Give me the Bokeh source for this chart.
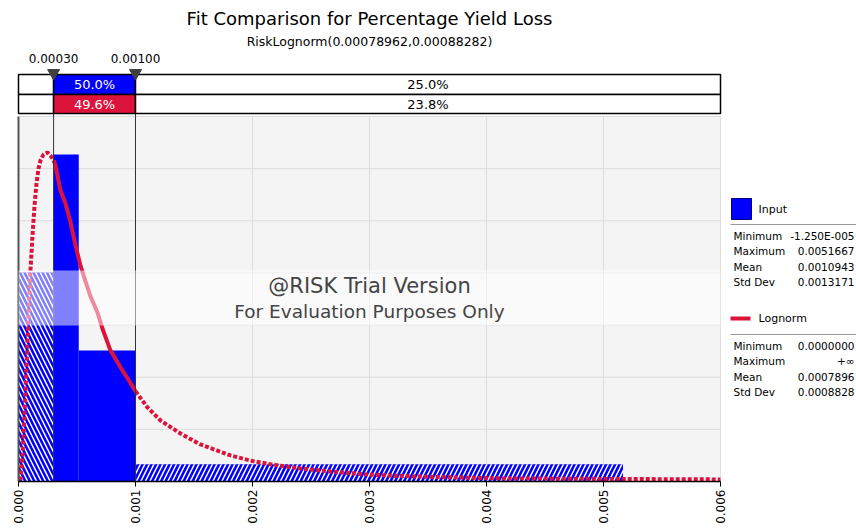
import math
import numpy as np
from bokeh.plotting import figure
from bokeh.models import Range1d, FixedTicker, PrintfTickFormatter
from bokeh.embed import file_html
from bokeh.resources import INLINE
from bokeh.core.properties import value

# ---------------- data ----------------
title_text = "Fit Comparison for Percentage Yield Loss"
subtitle_text = "RiskLognorm(0.00078962,0.00088282)"

# input histogram (relative density units)
bin_left = [-0.0000125, 0.0003, 0.000515, 0.001]
bin_right = [0.0003, 0.000515, 0.001, 0.0051667]
bin_height = [4.01, 6.27, 2.51, 0.33]

# fitted lognormal density (same units)
curve_x = [0.0000171, 0.0000342, 0.0000513, 0.0000684, 0.0000855, 0.0001026, 0.0001197,
           0.0001368, 0.0001538, 0.0001709, 0.000188, 0.0002137, 0.0002479, 0.0002735,
           0.0003, 0.0003162, 0.000359, 0.0004017, 0.0004444, 0.0004872, 0.0005299,
           0.0005726, 0.0006154, 0.0006752, 0.000718, 0.0007863, 0.0008718, 0.0009316,
           0.001, 0.0011026, 0.0012137, 0.0013846, 0.0015556, 0.001812, 0.001983,
           0.002154, 0.00241, 0.002667, 0.003009, 0.00335, 0.003692, 0.00412, 0.004974, 0.006]
curve_y = [0.02, 0.50, 1.27, 2.22, 3.18, 4.05, 4.72,
           5.29, 5.72, 6.00, 6.16, 6.27, 6.31, 6.25,
           6.16, 6.06, 5.58, 5.33, 4.97, 4.53, 4.14,
           3.84, 3.55, 3.24, 2.93, 2.51, 2.19, 1.98,
           1.73, 1.42, 1.17, 0.92, 0.71, 0.50, 0.40,
           0.33, 0.25, 0.19, 0.13, 0.10, 0.08, 0.06, 0.05, 0.04]

delims = [0.0003, 0.001]
delim_labels = ["0.00030", "0.00100"]
input_pct = ["25.0%", "50.0%", "25.0%"]
fit_pct = ["26.6%", "49.6%", "23.8%"]

xticks = [0.000, 0.001, 0.002, 0.003, 0.004, 0.005, 0.006]
grid_y = [1, 2, 3, 4, 5, 6, 7]

stat_names = ["Minimum", "Maximum", "Mean", "Std Dev"]
input_stats = ["-1.250E-005", "0.0051667", "0.0010943", "0.0013171"]
fit_stats = ["0.0000000", "+\u221e", "0.0007896", "0.0008828"]
series_names = ["Input", "Lognorm"]

watermark1 = "@RISK Trial Version"
watermark2 = "For Evaluation Purposes Only"

# ---------------- layout helpers (canvas pixel -> data) ----------------
W, H = 856, 529
X0_PX, X1_PX = 18, 720
Y0_PX, YTOP_PX = 481, 116
XMIN, XMAX = xticks[0], xticks[-1]
YTOP = grid_y[-1]
KX = (XMAX - XMIN) / (X1_PX - X0_PX)
KY = (Y0_PX - YTOP_PX) / YTOP


def X(px):
    return XMIN + (px - X0_PX) * KX


def Y(py):
    return (Y0_PX - py) / KY


FONT = value("DejaVu Sans")
BLUE = "#0000ff"
RED = "#dc143c"

p = figure(width=W, height=H, output_backend="svg", toolbar_location=None,
           x_range=Range1d(X(0), X(W)), y_range=Range1d(0, Y(0)),
           y_axis_location=None, min_border_left=0, min_border_right=0,
           min_border_top=0, min_border_bottom=H - Y0_PX)
p.grid.visible = False
p.outline_line_color = None
p.background_fill_color = "white"
p.border_fill_color = "white"

# plot area background and grid
p.quad(left=[XMIN], right=[XMAX], bottom=[0], top=[YTOP], fill_color="#f4f4f4", line_color=None)
p.segment(x0=xticks[1:], x1=xticks[1:], y0=[0] * (len(xticks) - 1), y1=[YTOP] * (len(xticks) - 1),
          line_color="#dddddd", line_width=1)
p.segment(x0=[XMIN] * len(grid_y), x1=[XMAX] * len(grid_y), y0=grid_y, y1=grid_y,
          line_color="#dddddd", line_width=1)

# histogram
bl = np.maximum(np.array(bin_left), XMIN)
br = np.array(bin_right)
bh = np.array(bin_height)
hatch_dirs = ["\\", None, None, "/"]
for i in range(len(bl)):
    if hatch_dirs[i] is None:
        p.quad(left=[bl[i]], right=[br[i]], bottom=[0], top=[bh[i]], fill_color=BLUE, line_color=None)
    else:
        p.quad(left=[bl[i]], right=[br[i]], bottom=[0], top=[bh[i]], fill_color=BLUE, line_color=None,
               hatch_pattern=hatch_dirs[i], hatch_color="white", hatch_scale=9, hatch_weight=1.5)

# fitted curve: solid between delimiters, dashed outside
cx = np.array(curve_x)
cy = np.array(curve_y)
m_left = cx <= delims[0]
m_mid = (cx >= delims[0]) & (cx <= delims[1])
m_right = cx >= delims[1]
p.line(cx[m_left], cy[m_left], line_color=RED, line_width=4, line_dash="4 2")
p.line(cx[m_right], cy[m_right], line_color=RED, line_width=4, line_dash="4 2")
p.line(cx[m_mid], cy[m_mid], line_color=RED, line_width=4)

# left axis line
p.segment(x0=[XMIN], x1=[XMIN], y0=[0], y1=[YTOP], line_color="#555555", line_width=2)

# delimiter lines
p.segment(x0=delims, x1=delims, y0=[0, 0], y1=[Y(74), Y(74)], line_color="#333333", line_width=1)

# watermark band
p.quad(left=[XMIN], right=[XMAX], bottom=[Y(325)], top=[Y(270)], fill_color="white",
       fill_alpha=0.5, line_color=None)
xc = (XMIN + XMAX) / 2
p.text(x=[xc], y=[Y(285)], text=[watermark1], text_font=FONT, text_font_size="21px",
       text_color="#444444", text_align="center", text_baseline="middle")
p.text(x=[xc], y=[Y(311)], text=[watermark2], text_font=FONT, text_font_size="18.5px",
       text_color="#444444", text_align="center", text_baseline="middle")

# delimiter bars above the plot
edges = [XMIN] + delims + [XMAX]
rows = [(Y(94), Y(74), ["white", BLUE, "white"], input_pct),
        (Y(113), Y(94), ["white", RED, "white"], fit_pct)]
for bot, top, colors, pcts in rows:
    p.quad(left=edges[:-1], right=edges[1:], bottom=[bot] * 3, top=[top] * 3,
           fill_color=colors, line_color="black", line_width=1.5)
    for j in range(3):
        if (edges[j + 1] - edges[j]) / KX < 50:
            continue
        p.text(x=[(edges[j] + edges[j + 1]) / 2], y=[(bot + top) / 2], text=[pcts[j]],
               text_font=FONT, text_font_size="13px",
               text_color="white" if colors[j] != "white" else "black",
               text_align="center", text_baseline="middle")

p.scatter(x=delims, y=[Y(72.5)] * 2, marker="inverted_triangle", size=12,
          fill_color="#404040", line_color="#404040")
p.text(x=delims, y=[Y(58)] * 2, text=delim_labels, text_font=FONT, text_font_size="12px",
       text_color="black", text_align="center", text_baseline="middle")

# titles
p.text(x=[xc], y=[Y(18)], text=[title_text], text_font=FONT, text_font_size="18px",
       text_color="black", text_align="center", text_baseline="middle")
p.text(x=[xc], y=[Y(41)], text=[subtitle_text], text_font=FONT, text_font_size="12.5px",
       text_color="black", text_align="center", text_baseline="middle")

# legend panel
RX = X(854)
p.quad(left=[X(731)], right=[X(751)], bottom=[Y(219)], top=[Y(198)], fill_color=BLUE,
       line_color="#000080", line_width=1)
p.segment(x0=[X(730)], x1=[X(750)], y0=[Y(318)], y1=[Y(318)], line_color=RED, line_width=4)
p.text(x=[X(758)] * 2, y=[Y(209), Y(318)], text=series_names, text_font=FONT,
       text_font_size="11px", text_color="black", text_baseline="middle")
p.segment(x0=[X(730)] * 2, x1=[X(856)] * 2, y0=[Y(224), Y(334)], y1=[Y(224), Y(334)],
          line_color="#999999", line_width=1)
for ys, vals in ((Y(235), input_stats), (Y(345), fit_stats)):
    yy = [ys - k * 15.6 / KY for k in range(len(stat_names))]
    p.text(x=[X(733)] * len(stat_names), y=yy, text=stat_names, text_font=FONT,
           text_font_size="10.5px", text_color="black", text_baseline="middle")
    p.text(x=[RX] * len(vals), y=yy, text=vals, text_font=FONT,
           text_font_size="10.5px", text_color="black", text_baseline="middle", text_align="right")

# x axis
ax = p.xaxis[0]
ax.ticker = FixedTicker(ticks=xticks)
ax.formatter = PrintfTickFormatter(format="%.3f")
ax.bounds = (XMIN, XMAX)
ax.major_label_orientation = math.pi / 2
ax.major_label_text_font = "DejaVu Sans"
ax.major_label_text_font_size = "12px"
ax.major_label_text_color = "black"
ax.major_label_standoff = 3
ax.axis_line_color = "black"
ax.axis_line_width = 1.5
ax.major_tick_line_color = "black"
ax.major_tick_out = 5
ax.major_tick_in = 0
ax.minor_tick_line_color = None

open("out.html", "w").write(file_html(p, INLINE))
